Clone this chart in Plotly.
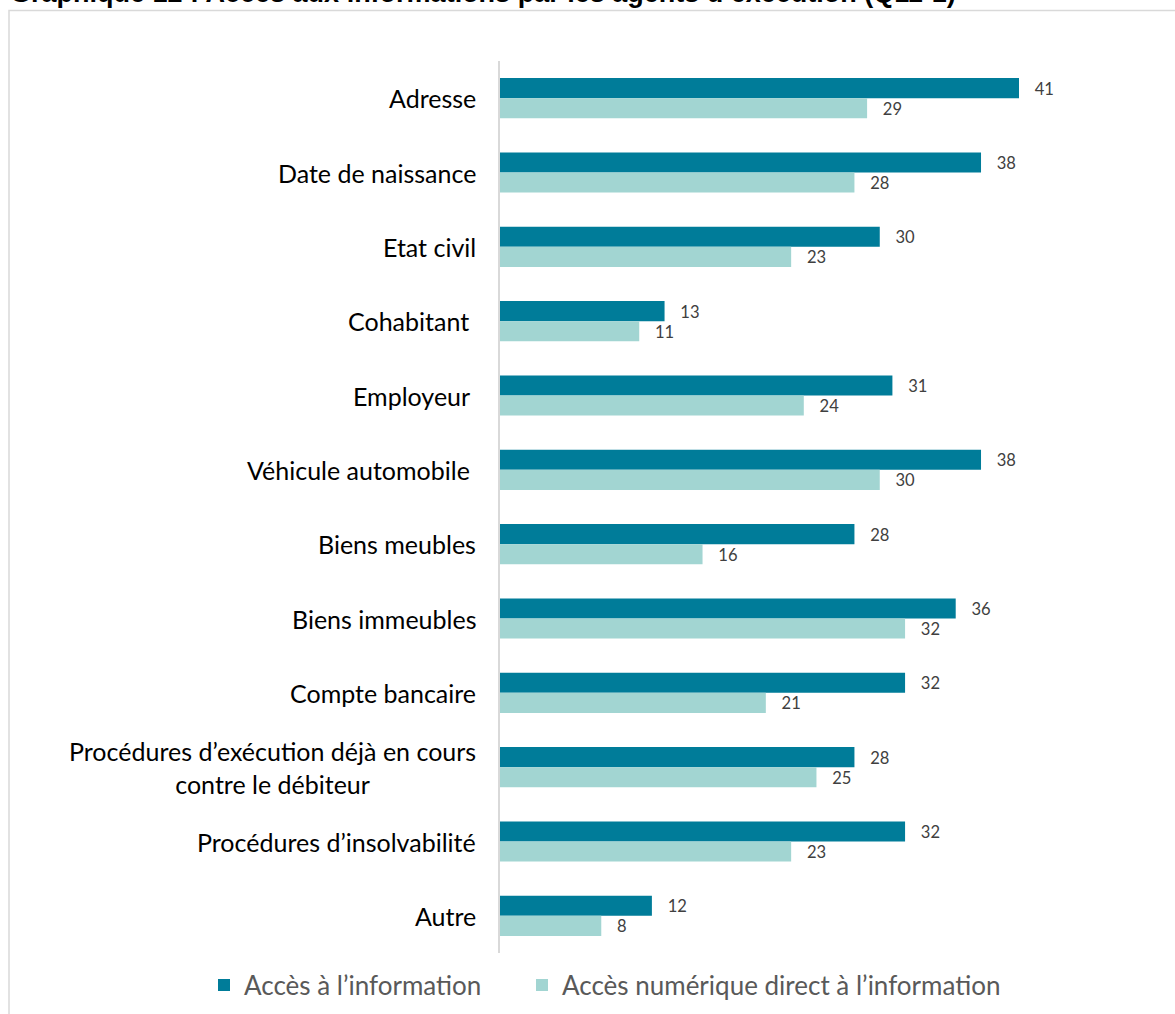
import plotly.graph_objects as go

categories = [
    "Adresse",
    "Date de naissance",
    "Etat civil",
    "Cohabitant ",
    "Employeur ",
    "Véhicule automobile ",
    "Biens meubles",
    "Biens immeubles",
    "Compte bancaire",
    "Procédures d’exécution déjà en cours<br>contre le débiteur",
    "Procédures d’insolvabilité",
    "Autre",
]
acces_info = [41, 38, 30, 13, 31, 38, 28, 36, 32, 28, 32, 12]
acces_numerique = [29, 28, 23, 11, 24, 30, 16, 32, 21, 25, 23, 8]
series_names = ["Accès à l’information", "Accès numérique direct à l’information"]
title_text = "Graphique 12 : Accès aux informations par les agents d’exécution (Q11-1)"

DARK = "#007C99"
LIGHT = "#A2D5D2"
FONT = "Lato"

W, H = 1175, 1014
ML, MR, MT, MB = 500, 75, 61, 61
PW = W - ML - MR
PH = H - MT - MB

def px_x(p):
    return (p - ML) / PW

def px_y(p):
    return (H - MB - p) / PH

idx = list(range(len(categories)))

fig = go.Figure()
fig.add_trace(go.Bar(
    y=idx, x=acces_info, orientation="h", name=series_names[0], legend="legend",
    marker=dict(color=DARK, line=dict(width=0)),
    text=acces_info, texttemplate="   %{x}", textposition="outside",
    textfont=dict(family=FONT, size=19, color="#404040"), cliponaxis=False,
))
fig.add_trace(go.Bar(
    y=idx, x=acces_numerique, orientation="h", name=series_names[1], legend="legend2",
    marker=dict(color=LIGHT, line=dict(width=0)),
    text=acces_numerique, texttemplate="   %{x}", textposition="outside",
    textfont=dict(family=FONT, size=19, color="#404040"), cliponaxis=False,
))

annotations = []
for i, c in enumerate(categories):
    annotations.append(dict(
        x=0, xref="paper", y=i, yref="y", text=c, showarrow=False,
        xanchor="right", yanchor="middle", align="center", xshift=-22,
        font=dict(family=FONT, size=25, color="#000000"),
    ))
annotations.append(dict(
    x=px_x(8), xref="paper", y=1, yref="paper", yshift=51,
    text="<b>" + title_text + "</b>", showarrow=False, xanchor="left", yanchor="bottom",
    font=dict(family="Liberation Sans", size=27, color="#000000"),
))

legend_common = dict(orientation="h", xanchor="left", y=px_y(985), yanchor="middle",
                     font=dict(family=FONT, size=26, color="#595959"), itemwidth=30,
                     bgcolor="rgba(0,0,0,0)")

fig.update_layout(
    width=W, height=H,
    margin=dict(l=ML, r=MR, t=MT, b=MB, autoexpand=False),
    paper_bgcolor="white", plot_bgcolor="white",
    barmode="group", bargap=0.46, bargroupgap=0,
    showlegend=True,
    legend=dict(x=px_x(204), **legend_common),
    legend2=dict(x=px_x(522), **legend_common),
    xaxis=dict(range=[0, PW / (519 / 41)], visible=False, showgrid=False, zeroline=False),
    yaxis=dict(range=[11.5, -0.5], showticklabels=False, showgrid=False, zeroline=False,
               showline=True, linecolor="#D9D9D9", linewidth=2, ticks=""),
    annotations=annotations,
    shapes=[dict(type="rect", xref="paper", yref="paper",
                 x0=px_x(9), x1=px_x(1300), y0=px_y(1040), y1=px_y(10.5),
                 line=dict(color="#D9D9D9", width=1.5), fillcolor="rgba(0,0,0,0)", layer="below")],
)

fig.write_html("out.html")
